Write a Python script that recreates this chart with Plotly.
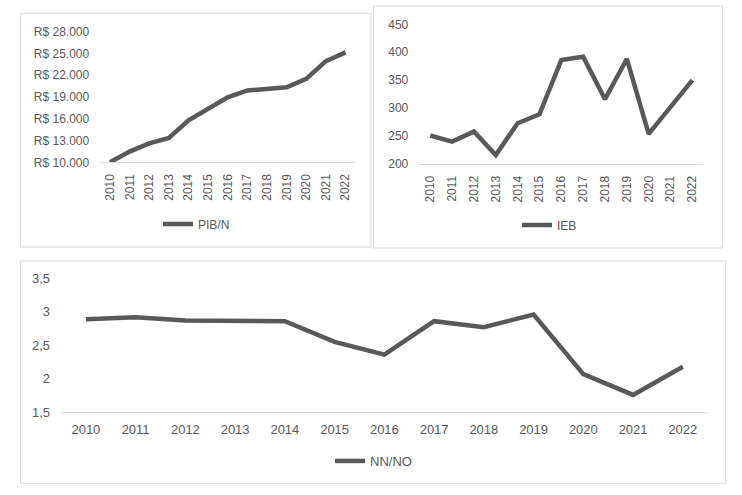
import plotly.graph_objects as go

years = [str(y) for y in range(2010, 2023)]
pib_n = [10000, 11470, 12600, 13350, 15800, 17300, 18950, 19900, 20200, 20350, 21500, 23950, 25150]
ieb = [251, 240, 258, 216, 273, 289, 386, 392, 316, 388, 254, 301, 350]
nn_no = [2.89, 2.92, 2.87, 2.86, 2.86, 2.55, 2.36, 2.86, 2.77, 2.96, 2.07, 1.76, 2.18]

W, H = 742, 495
GRAY = "#595959"
LIGHT = "#d9d9d9"
FONT = "Liberation Sans, Arial, sans-serif"


def px_x(v):
    return v / W


def px_y(v):
    return 1 - v / H


fig = go.Figure()
fig.add_trace(go.Scatter(x=years, y=pib_n, mode="lines", name="PIB/N",
                         line=dict(color=GRAY, width=4.5), xaxis="x", yaxis="y", legend="legend"))
fig.add_trace(go.Scatter(x=years, y=ieb, mode="lines", name="IEB",
                         line=dict(color=GRAY, width=4.5), xaxis="x2", yaxis="y2", legend="legend2"))
fig.add_trace(go.Scatter(x=years, y=nn_no, mode="lines", name="NN/NO",
                         line=dict(color=GRAY, width=4.5), xaxis="x3", yaxis="y3", legend="legend3"))

common_x = dict(type="category", range=[-0.5, 12.5], showgrid=False, zeroline=False,
                showline=True, linecolor=LIGHT, linewidth=1, ticks="",
                tickfont=dict(family=FONT, size=12, color=GRAY), fixedrange=True)
common_y = dict(showgrid=False, zeroline=False, showline=False, ticks="",
                tickfont=dict(family=FONT, size=12, color=GRAY), fixedrange=True)

fig.update_layout(
    width=W, height=H, margin=dict(l=0, r=0, t=0, b=0, autoexpand=False),
    paper_bgcolor="white", plot_bgcolor="rgba(0,0,0,0)",
    separators=",.",
    font=dict(family=FONT, size=12, color=GRAY),
    xaxis=dict(common_x, domain=[px_x(100.2), px_x(355.3)], anchor="y", tickangle=-90,
               ticklabelstandoff=6),
    yaxis=dict(common_y, domain=[px_y(162.3), px_y(31.7)], anchor="x", range=[10000, 28000],
               tick0=10000, dtick=3000, tickformat=",d", tickprefix="R$ ", ticklabelstandoff=10),
    xaxis2=dict(common_x, domain=[px_x(419.3), px_x(703.3)], anchor="y2", tickangle=-90,
                ticklabelstandoff=6),
    yaxis2=dict(common_y, domain=[px_y(164), px_y(24.3)], anchor="x2", range=[200, 450],
                tick0=200, dtick=50, ticklabelstandoff=10),
    xaxis3=dict(common_x, domain=[px_x(61), px_x(707.7)], anchor="y3",
                tickfont=dict(family=FONT, size=13, color=GRAY), ticklabelstandoff=5),
    yaxis3=dict(common_y, domain=[px_y(412.3), px_y(278.3)], anchor="x3", range=[1.5, 3.5],
                tick0=1.5, dtick=0.5, tickfont=dict(family=FONT, size=13, color=GRAY),
                ticklabelstandoff=10),
    legend=dict(x=px_x(158), y=px_y(224), xanchor="left", yanchor="middle",
                bgcolor="rgba(0,0,0,0)", font=dict(family=FONT, size=12, color=GRAY)),
    legend2=dict(x=px_x(517), y=px_y(225), xanchor="left", yanchor="middle",
                 bgcolor="rgba(0,0,0,0)", font=dict(family=FONT, size=12, color=GRAY)),
    legend3=dict(x=px_x(330), y=px_y(461), xanchor="left", yanchor="middle",
                 bgcolor="rgba(0,0,0,0)", font=dict(family=FONT, size=13, color=GRAY)),
    showlegend=True,
)

boxes = [(20.7, 13.3, 371, 247), (373.5, 6, 722.3, 248), (20.5, 261, 725.7, 483.3)]
for x0, y0, x1, y1 in boxes:
    fig.add_shape(type="rect", xref="paper", yref="paper",
                  x0=px_x(x0), x1=px_x(x1), y0=px_y(y1), y1=px_y(y0),
                  line=dict(color=LIGHT, width=1), fillcolor="rgba(0,0,0,0)", layer="below")

fig.write_html("out.html", config={"displayModeBar": False},
               post_script="document.body.style.margin='0';document.body.style.overflow='hidden';")
